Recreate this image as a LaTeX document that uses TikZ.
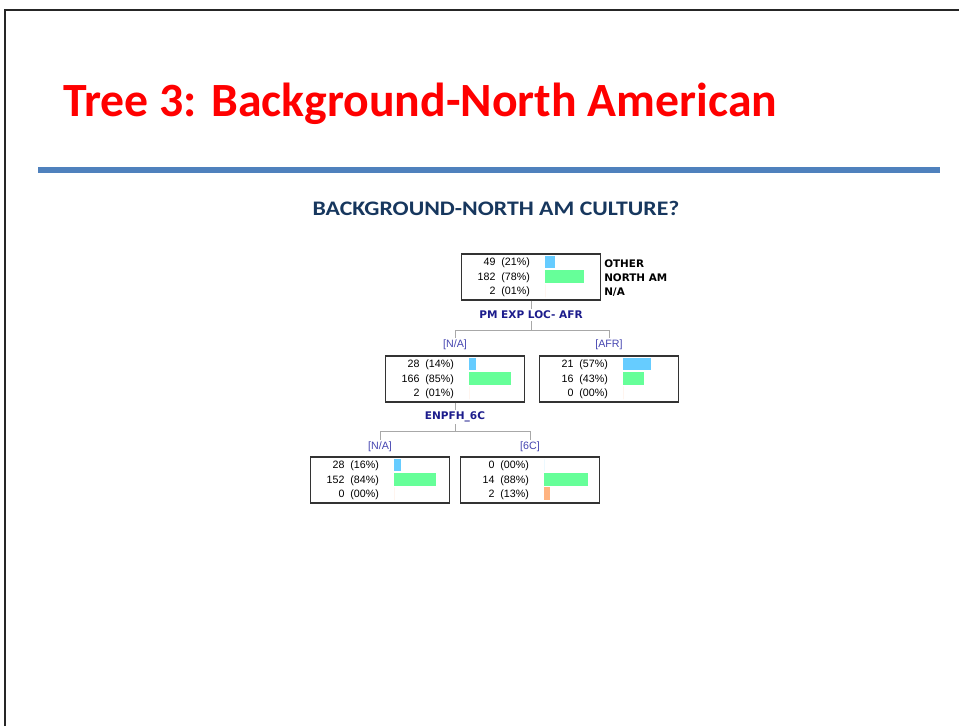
\documentclass[tikz,border=0pt]{standalone}
\usepackage{fontspec}
\setmainfont{Carlito}
\newfontfamily\treefont{Liberation Sans}
\newfontfamily\splitfont{DejaVu Sans}
\usepackage{tikz}
\usetikzlibrary{positioning}
\definecolor{titlered}{HTML}{FF0000}
\definecolor{rulebl}{HTML}{4F81BD}
\definecolor{navy}{HTML}{17375E}
\definecolor{splitblue}{HTML}{1C1C8C}
\definecolor{armblue}{HTML}{4444B0}
\definecolor{otherblue}{HTML}{66CCFF}
\definecolor{northgreen}{HTML}{66FF99}
\definecolor{naorange}{HTML}{FFB380}
\definecolor{linkgray}{HTML}{A8A8A8}

\tikzset{
  leafbox/.style={draw=black!80, line width=0.8pt, minimum width=104pt,
    minimum height=34.5pt, inner sep=0pt},
  count/.style={anchor=east, inner sep=0pt, font=\treefont\fontsize{8}{9}\selectfont},
  category/.style={anchor=west, inner sep=0pt, font=\splitfont\bfseries\fontsize{7.8}{9}\selectfont},
  splitlabel/.style={inner sep=1.5pt, text=splitblue, font=\splitfont\bfseries\fontsize{7.9}{9}\selectfont},
  armlabel/.style={inner sep=1.5pt, text=armblue, font=\treefont\fontsize{8}{9}\selectfont},
  link/.style={draw=linkgray, line width=0.75pt},
}

% counts and bars inside a leaf box: #1 box, #2-#4 counts, #5-#7 bar widths
\newcommand{\leafstats}[7]{%
  \begin{scope}[shift={(#1.north west)}]
    \node[count] at (69,9.5) {#2};
    \node[count] at (69,24) {#3};
    \node[count] at (69,38.5) {#4};
    \fill[otherblue] (84,3) rectangle ++(#5,12);
    \fill[northgreen] (84,17) rectangle ++(#6,13);
    \fill[naorange] (84,31) rectangle ++(#7,13);
  \end{scope}}

\begin{document}
\begin{tikzpicture}[x=0.75pt, y=-0.75pt]
  \useasboundingbox (0,0) rectangle (959,726);

  % Slide frame
  \draw[black!85, line width=1.5pt] (5,726) -- (5,10) -- (959,10);

  % Heading and rule
  \node[anchor=base west, inner sep=0pt, text=titlered,
    font=\bfseries\fontsize{35.8}{40}\selectfont] (title) at (63,116)
    {Tree 3: Background-North American};
  \draw[rulebl, line width=4.5pt] (38,170) -- (940,170);
  \node[anchor=base, inner sep=0pt, text=navy, xscale=1.15,
    font=\bfseries\fontsize{15.5}{18}\selectfont] (question) at (496,215)
    {BACKGROUND-NORTH AM CULTURE?};

  % Root
  \node[leafbox] (root) at (531,277) {};
  \leafstats{root}{49~~(21\%)}{182~~(78\%)}{2~~(01\%)}{10}{39}{0}
  \node[category] (catOther) at (604,263.5) {OTHER};
  \node[category] (catNorth) at (604,278) {NORTH AM};
  \node[category] (catNA) at (604,292.5) {N/A};

  % First split
  \node[splitlabel] (splitLoc) at (531,315) {PM EXP LOC- AFR};
  \coordinate (barLoc) at (531,330);
  \node[armlabel] (armNA) at (455,345) {[N/A]};
  \node[armlabel] (armAFR) at (609,345) {[AFR]};
  \node[leafbox] (leafNA) at (455,379) {};
  \node[leafbox] (leafAFR) at (609,379) {};
  \leafstats{leafNA}{28~~(14\%)}{166~~(85\%)}{2~~(01\%)}{7}{42}{0}
  \leafstats{leafAFR}{21~~(57\%)}{16~~(43\%)}{0~~(00\%)}{28}{21}{0}

  \draw[link] (root.south) -- (splitLoc.north);
  \draw[link] (splitLoc.south) -- (barLoc);
  \draw[link] (armNA.north) |- (barLoc) -| (armAFR.north);

  % Second split
  \node[splitlabel] (splitEnp) at (455,417) {ENPFH\_6C};
  \coordinate (barEnp) at (455,431);
  \node[armlabel] (armNA2) at (380,447) {[N/A]};
  \node[armlabel] (arm6C) at (530,447) {[6C]};
  \node[leafbox] (leafNA2) at (380,480) {};
  \node[leafbox] (leaf6C) at (530,480) {};
  \leafstats{leafNA2}{28~~(16\%)}{152~~(84\%)}{0~~(00\%)}{7}{42}{0}
  \leafstats{leaf6C}{0~~(00\%)}{14~~(88\%)}{2~~(13\%)}{0}{44}{6}

  \draw[link] (leafNA.south) -- (splitEnp.north);
  \draw[link] (splitEnp.south) -- (barEnp);
  \draw[link] (armNA2.north) |- (barEnp) -| (arm6C.north);
\end{tikzpicture}
\end{document}
